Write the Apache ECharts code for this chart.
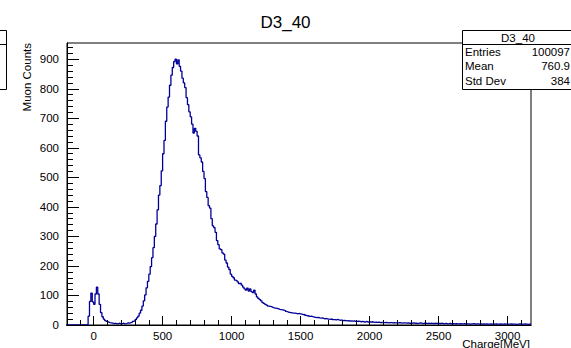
<!DOCTYPE html>
<html>
<head>
<meta charset="utf-8">
<script src="https://cdn.jsdelivr.net/npm/echarts@6/dist/echarts.min.js"></script>
<style>
html,body{margin:0;padding:0;background:#fff;}
#c{width:571px;height:348px;}
</style>
</head>
<body>
<div id="c"></div>
<script>
// Histogram D3_40: bin left edges start at -200, width 10 MeV
const binStart = -200;
const binWidth = 10;
const counts = [
  0,0,0,0,0,0,0,0,0,0,
  0,0,0,0,0,2,30,80,108,78,
  70,105,128,105,70,42,28,20,15,12,
  10,8,7,6,5,6,4,5,6,4,
  5,6,4,5,7,6,8,9,12,14,
  18,24,30,40,50,64,82,102,126,148,
  172,198,228,262,300,342,390,440,472,522,
  580,625,690,738,772,812,846,872,892,900,
  884,898,876,860,836,820,804,770,746,722,
  705,680,650,666,656,640,576,566,552,520,
  496,452,432,404,396,360,336,330,314,286,
  272,258,255,244,240,220,210,196,188,172,
  165,160,152,150,146,140,142,135,128,122,
  118,125,115,122,113,110,118,105,95,90,
  86,82,76,73,70,67,64,63,62,60,
  58,57,56,55,53,52,51,50,49,46,
  44,43,42,41,40,40,39,38,39,38,
  37,35,36,33,31,32,29,30,28,27,
  26,25,26,24,23,24,22,21,22,20,
  20,19,21,18,18,17,19,17,16,17,
  15,16,15,14,15,13,14,13,14,12,
  12,13,12,11,12,11,10,12,10,11,
  10,11,10,9,10,9,10,8,9,8,
  8,9,8,7,8,8,7,8,7,7,
  7,8,7,6,7,7,6,7,6,6,
  6,7,6,6,5,6,7,6,5,6,
  6,5,6,5,6,5,5,6,5,5,
  5,5,6,4,5,5,4,5,5,4,
  5,4,5,4,4,5,4,4,5,4,
  4,4,3,4,4,5,3,4,4,3,
  4,3,4,3,4,3,3,4,3,4,
  3,4,3,3,4,3,3,4,3,3,
  3,3,4,3,3,3,2,3,4,3,
  3,3,4,3,2,3,3
];
const xMajorTicks = [0,500,1000,1500,2000,2500,3000];
const xMinorTicks = [-100,0,100,200,300,400,500,600,700,800,900,1000,1100,1200,1300,1400,1500,1600,1700,1800,1900,2000,2100,2200,2300,2400,2500,2600,2700,2800,2900,3000,3100];
const yMajorTicks = [0,100,200,300,400,500,600,700,800,900];
const yMinorTicks = [];
for (let v = 0; v <= 940; v += 20) yMinorTicks.push(v);
const statLabels = ['Entries','Mean','Std Dev'];
const statValues = ['100097','760.9','384'];
const histName = 'D3_40';

const xMin = -193, xMax = 3170, yMin = 0, yMax = 955;

const pts = counts.map((c, i) => [binStart + i * binWidth, c]);
pts.push([binStart + counts.length * binWidth, counts[counts.length - 1]]);

const FONT = 'Liberation Sans, Arial, Helvetica, sans-serif';
const chart = echarts.init(document.getElementById('c'), null, {renderer: 'svg'});

const gridL = 67, gridT = 43, gridR = 40, gridB = 23;
const plain = v => String(v);

function xAxisCfg(ticks, len, labels) {
  return {
    type: 'value', min: xMin, max: xMax, position: 'bottom', z: 5,
    axisLine: {show: true, onZero: false, lineStyle: {color: '#000', width: 1}},
    axisTick: {show: true, inside: true, length: len, customValues: ticks, lineStyle: {color: '#000', width: 1}},
    axisLabel: {show: labels, customValues: ticks, formatter: plain, color: '#000', fontFamily: FONT, fontSize: 11.5, margin: 5},
    splitLine: {show: false}
  };
}
function yAxisCfg(ticks, len, labels) {
  return {
    type: 'value', min: yMin, max: yMax, position: 'left', z: 5,
    axisLine: {show: true, onZero: false, lineStyle: {color: '#000', width: 1}},
    axisTick: {show: true, inside: true, length: len, customValues: ticks, lineStyle: {color: '#000', width: 1}},
    axisLabel: {show: labels, customValues: ticks, formatter: plain, color: '#000', fontFamily: FONT, fontSize: 11.5, margin: 8},
    splitLine: {show: false}
  };
}

const statGraphics = [];
const boxX = 462, boxY = 30, boxW = 120, boxH = 59, sepY = 44;
const SF = '11.5px ' + FONT;
statGraphics.push({type: 'rect', shape: {x: boxX + 0.5, y: boxY + 0.5, width: boxW, height: boxH}, style: {fill: '#fff', stroke: '#000', lineWidth: 1}, z: 100});
statGraphics.push({type: 'line', shape: {x1: boxX, y1: sepY + 0.5, x2: boxX + boxW, y2: sepY + 0.5}, style: {stroke: '#000', lineWidth: 1}, z: 101});
statGraphics.push({type: 'text', x: 518, y: 37.5, style: {text: histName, fill: '#000', font: SF, align: 'center', verticalAlign: 'middle'}, z: 102});
statLabels.forEach((t, i) => {
  const yy = 51.5 + i * 14.5;
  statGraphics.push({type: 'text', x: 465, y: yy, style: {text: t, fill: '#000', font: SF, align: 'left', verticalAlign: 'middle'}, z: 102});
  statGraphics.push({type: 'text', x: 570, y: yy, style: {text: statValues[i], fill: '#000', font: SF, align: 'right', verticalAlign: 'middle'}, z: 102});
});
// partially visible box on the left
statGraphics.push({type: 'rect', shape: {x: -10, y: 30.5, width: 16.5, height: 59}, style: {fill: '#fff', stroke: '#000', lineWidth: 1}, z: 100});
statGraphics.push({type: 'line', shape: {x1: -10, y1: 44.5, x2: 6.5, y2: 44.5}, style: {stroke: '#000', lineWidth: 1}, z: 101});

chart.setOption({
  animation: false,
  backgroundColor: '#fff',
  title: {text: histName, left: 'center', top: 9, textStyle: {fontFamily: FONT, fontSize: 17, fontWeight: 'normal', color: '#000'}},
  grid: {left: gridL, top: gridT, right: gridR, bottom: gridB, show: true, borderColor: '#000', borderWidth: 1, backgroundColor: 'transparent'},
  xAxis: [xAxisCfg(xMajorTicks, 9, true), xAxisCfg(xMinorTicks, 5, false)],
  yAxis: [yAxisCfg(yMajorTicks, 12, true), yAxisCfg(yMinorTicks, 6, false)],
  series: [{
    type: 'line', step: 'end', data: pts, showSymbol: false, symbol: 'none', z: 1,
    lineStyle: {color: '#000099', width: 1.3}, clip: true, xAxisIndex: 0, yAxisIndex: 0
  }],
  graphic: [
    {type: 'text', x: 27, y: 43, rotation: Math.PI / 2, style: {text: 'Muon Counts', fill: '#000', font: '11.5px ' + FONT, align: 'right', verticalAlign: 'middle'}},
    {type: 'text', x: 530, y: 338, style: {text: 'Charge[MeV]', fill: '#000', font: '11.5px ' + FONT, align: 'right', verticalAlign: 'top'}}
  ].concat(statGraphics)
});
</script>
</body>
</html>
